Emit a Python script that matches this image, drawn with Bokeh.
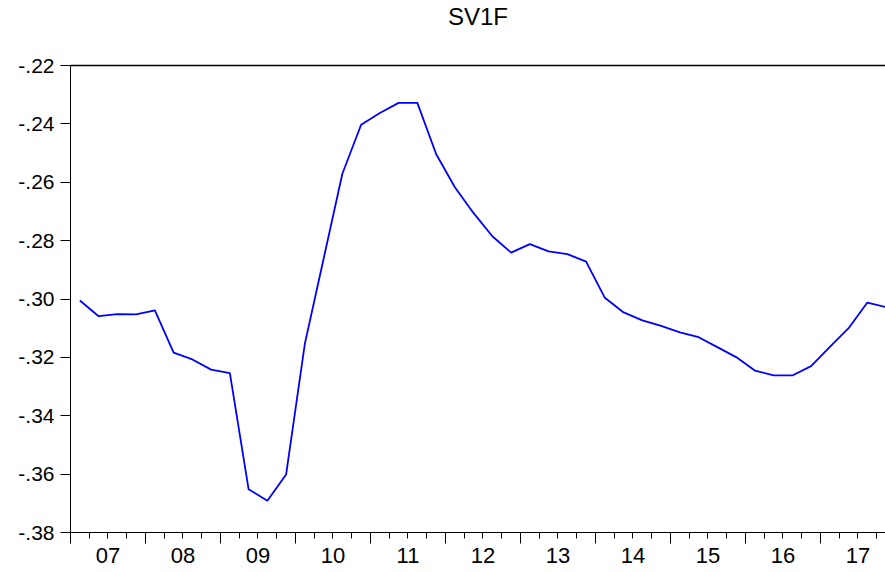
from bokeh.plotting import figure
from bokeh.models import Range1d, LinearAxis, FixedTicker
from bokeh.embed import file_html
from bokeh.resources import INLINE

# ---- data ----
title_text = "SV1F"
start_year = 2007
n_quarters = 44  # 2007Q1 .. 2017Q4
sv1f = [-0.3005, -0.3059, -0.3052, -0.3053, -0.3039, -0.3184, -0.3207, -0.3242,
        -0.3254, -0.3652, -0.3691, -0.3601, -0.3153, -0.2862, -0.2571, -0.2403,
        -0.2363, -0.2328, -0.2328, -0.2503, -0.2617, -0.2706, -0.2785, -0.2841,
        -0.2812, -0.2837, -0.2846, -0.2872, -0.2996, -0.3046, -0.3073, -0.3092,
        -0.3114, -0.3131, -0.3165, -0.3199, -0.3245, -0.3262, -0.3262, -0.3230,
        -0.3164, -0.3100, -0.3012, -0.3028]
x_tick_labels = ["07", "08", "09", "10", "11", "12", "13", "14", "15", "16", "17"]
y_ticks = [-0.38, -0.36, -0.34, -0.32, -0.30, -0.28, -0.26, -0.24, -0.22]
y_tick_labels = ["-.38", "-.36", "-.34", "-.32", "-.30", "-.28", "-.26", "-.24", "-.22"]

# observation positions: middle of each quarter
x_obs = [start_year + (q + 0.5) / 4.0 for q in range(n_quarters)]
year_bounds = [start_year + i for i in range(len(x_tick_labels) + 1)]
quarter_bounds = [start_year + q / 4.0 for q in range(n_quarters + 1)]
label_pos = [start_year + i + 0.5 for i in range(len(x_tick_labels))]

FONT = "Liberation Sans"

p = figure(width=885, height=572,
           x_range=Range1d(2007.0, 2017.867), y_range=Range1d(-0.38, -0.22),
           output_backend="svg", toolbar_location=None,
           x_axis_type=None, y_axis_type=None,
           min_border_left=70, min_border_right=0, min_border_top=65, min_border_bottom=40)
p.outline_line_color = None
p.xgrid.visible = False
p.ygrid.visible = False
p.background_fill_color = "white"
p.border_fill_color = "white"

# top border: an above axis with no visible ticks/labels (also spaces the title upward)
top_ax = LinearAxis(ticker=FixedTicker(ticks=[2012.0], minor_ticks=[]),
                    major_tick_out=34, major_tick_in=0, major_tick_line_color=None,
                    minor_tick_line_color=None, axis_line_color="black", axis_line_width=1.5,
                    major_label_overrides={2012.0: ""}, major_label_text_font_size="0px",
                    major_label_standoff=0)
p.add_layout(top_ax, "above")

p.title.text = title_text
p.title.align = "center"
p.title.vertical_align = "top"
p.title.offset = 4
p.title.standoff = 0
p.title.text_font = FONT
p.title.text_font_size = "24px"
p.title.text_font_style = "normal"
p.title.text_color = "black"

# y axis
yax = LinearAxis(ticker=FixedTicker(ticks=y_ticks, minor_ticks=[]),
                 major_label_overrides={t: l for t, l in zip(y_ticks, y_tick_labels)},
                 major_tick_out=10, major_tick_in=0, minor_tick_line_color=None,
                 major_label_standoff=6, axis_line_color="black", axis_line_width=1,
                 major_tick_line_color="black", major_tick_line_width=1,
                 major_label_text_font=FONT, major_label_text_font_size="21px",
                 major_label_text_color="black")
p.add_layout(yax, "left")

# x axis: year and quarter ticks
xax_ticks = LinearAxis(ticker=FixedTicker(ticks=year_bounds, minor_ticks=quarter_bounds),
                       major_tick_out=11, major_tick_in=0, minor_tick_out=6, minor_tick_in=0,
                       major_tick_line_color="black", minor_tick_line_color="black",
                       major_tick_line_width=1, minor_tick_line_width=1,
                       axis_line_color="black", axis_line_width=1,
                       major_label_overrides={t: "" for t in year_bounds},
                       major_label_text_font_size="0px", major_label_standoff=0)
p.add_layout(xax_ticks, "below")

# x axis: year labels centred in each year
xax_labels = LinearAxis(ticker=FixedTicker(ticks=label_pos, minor_ticks=[]),
                        major_label_overrides={t: l for t, l in zip(label_pos, x_tick_labels)},
                        axis_line_color=None, major_tick_line_color=None, minor_tick_line_color=None,
                        major_tick_out=0, major_tick_in=0, major_label_standoff=4,
                        major_label_text_font=FONT, major_label_text_font_size="22px",
                        major_label_text_color="black")
p.add_layout(xax_labels, "below")

p.line(x_obs, sv1f, line_color="#0000FF", line_width=1.8)

open("out.html", "w").write(file_html(p, INLINE))
